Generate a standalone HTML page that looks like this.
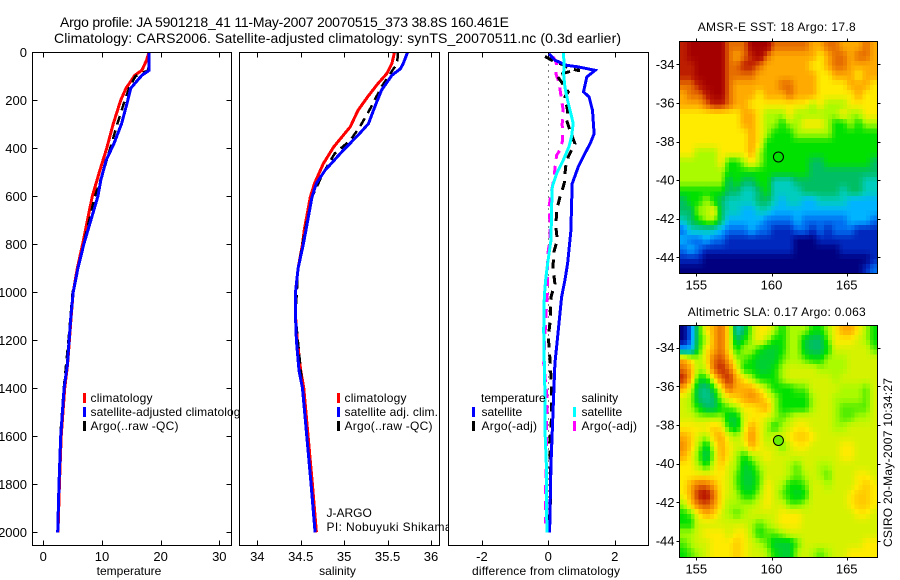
<!DOCTYPE html>
<html lang="en">
<head>
<meta charset="utf-8">
<title>Argo profile JA 5901218_41</title>
<style>
html,body{margin:0;padding:0;background:#fff;width:900px;height:580px;overflow:hidden}
svg{display:block}
text{font-family:"Liberation Sans",sans-serif;font-size:12px;fill:#000}
.title{font-size:14px}
.map-title{font-size:12px}
.tk{font-size:13px}
</style>
</head>
<body>
<svg id="fig" xmlns="http://www.w3.org/2000/svg" width="900" height="580" viewBox="0 0 900 580">
  <rect x="0" y="0" width="900" height="580" fill="#fff"/>
  <text class="title" x="60" y="27" textLength="449">Argo profile: JA 5901218_41 11-May-2007 20070515_373 38.8S 160.461E</text>
  <text class="title" x="54" y="43" textLength="567">Climatology: CARS2006. Satellite-adjusted climatology: synTS_20070511.nc (0.3d earlier)</text>

  <g id="panel-t"></g>
  <g>
    <rect x="83" y="393" width="3" height="10" fill="#f00"/>
    <text x="90.5" y="402" textLength="62">climatology</text>
    <rect x="83" y="407" width="3" height="10" fill="#00f"/>
    <text x="90.5" y="416" textLength="156">satellite-adjusted climatology</text>
    <rect x="83" y="421" width="3" height="10" fill="#000"/>
    <text x="90.5" y="430" textLength="88">Argo(..raw -QC)</text>
  </g>
  <text x="129" y="575" text-anchor="middle">temperature</text>

  <g id="panel-s"></g>
  <g>
    <rect x="337" y="393" width="3" height="10" fill="#f00"/>
    <text x="344.5" y="402" textLength="62">climatology</text>
    <rect x="337" y="407" width="3" height="10" fill="#00f"/>
    <text x="344.5" y="416" textLength="93.5">satellite adj. clim.</text>
    <rect x="337" y="421" width="3" height="10" fill="#000"/>
    <text x="344.5" y="430" textLength="88">Argo(..raw -QC)</text>
  </g>
  <text x="326.5" y="517">J-ARGO</text>
  <text x="326.5" y="531" textLength="125">PI: Nobuyuki Shikama</text>
  <text x="337.5" y="575" text-anchor="middle">salinity</text>

  <g id="panel-d"></g>
  <g>
    <text x="481" y="402">temperature</text>
    <rect x="472" y="407" width="3" height="10" fill="#00f"/>
    <text x="481.5" y="416">satellite</text>
    <rect x="472" y="421" width="3" height="10" fill="#000"/>
    <text x="481.5" y="430" textLength="55.5">Argo(-adj)</text>
    <text x="581.5" y="402">salinity</text>
    <rect x="573" y="407" width="3" height="10" fill="#0ff"/>
    <text x="581.5" y="416">satellite</text>
    <rect x="573" y="421" width="3" height="10" fill="#f0f"/>
    <text x="581.5" y="430" textLength="55.5">Argo(-adj)</text>
  </g>
  <text x="472" y="575" textLength="148">difference from climatology</text>

  <text class="map-title" x="697.7" y="31" textLength="158">AMSR-E SST: 18 Argo: 17.8</text>
  <g id="map-sst"></g>
  <text class="map-title" x="687.7" y="316" textLength="178">Altimetric SLA: 0.17 Argo: 0.063</text>
  <g id="map-sla"></g>
  <text transform="translate(892,547) rotate(-90)" textLength="169">CSIRO 20-May-2007 10:34:27</text>
</svg>

<script>
// ---------- profile data ----------
const depthTicks = [0,200,400,600,800,1000,1200,1400,1600,1800,2000];
const tempTicks = [0,10,20,30];
const salTicks = [34,34.5,35,35.5,36];
const salTickLabels = ['34','34.5','35','35.5','36'];
const diffTicks = [-2,0,2];

const tDepthClim = [0,33,75,96,150,200,300,400,500,600,800,900,1000,1100,1200,1300,1400,1600,1800,2000];
const tClim = [18,17.6,16.8,15.6,14.1,13.2,11.9,10.8,9.55,8.35,6.7,5.8,5.1,4.75,4.45,4.15,3.65,3.05,2.75,2.5];
const tDepthSat = [0,75,96,150,200,297,380,450,533,600,800,900,1000,1100,1200,1300,1400,1600,1800,2000];
const tSat = [18.05,18.05,16.8,14.9,14.4,13.35,12.05,10.7,9.8,9.3,6.9,5.9,5.1,4.7,4.4,4.1,3.55,2.96,2.68,2.45];
const tDepthArgo = [0,75,90,100,150,200,300,400,500,600,800,1000,1200,1400,1600,1800,1950];
const tArgo = [18,17.9,16.5,15.7,14.6,13.9,12.6,11.4,10.2,8.8,6.85,5.0,4.3,3.5,2.9,2.7,2.5];

const sDepthClim = [0,47,89,130,186,242,311,394,464,546,603,742,800,900,1000,1100,1200,1325,1400,1600,1800,2000];
const sClim = [35.58,35.55,35.49,35.39,35.27,35.16,35.07,34.88,34.76,34.66,34.61,34.54,34.52,34.47,34.44,34.44,34.46,34.5,34.535,34.585,34.635,34.68];
const sDepthSat = [0,47,68,96,158,221,297,346,408,492,546,603,742,800,900,1000,1100,1200,1325,1400,1600,1800,2000];
const sSat = [35.73,35.68,35.65,35.55,35.43,35.36,35.28,35.16,34.99,34.78,34.68,34.63,34.56,34.53,34.47,34.44,34.44,34.45,34.48,34.52,34.57,34.62,34.665];
const sDepthArgo = [0,47,89,144,242,311,367,422,478,533,603,742,900,1100,1400,1600,1800,1980];
const sArgo = [35.62,35.61,35.53,35.43,35.29,35.18,35.07,34.89,34.8,34.72,34.63,34.55,34.47,34.44,34.52,34.57,34.62,34.66];

const dDepthTempSat = [6,33,54,61,75,103,165,186,242,339,381,422,478,547,644,742,880,950,1019,1158,1297,1436,1575,1714,1853,2000];
const dTempSat = [0.02,0.2,0.55,0.9,1.41,1.16,1.06,1.23,1.33,1.38,1.26,1.1,0.9,0.72,0.7,0.68,0.58,0.5,0.4,0.3,0.2,0.16,0.12,0.08,0.06,0.04];
const dDepthTempArgo = [17,33,47,54,70,75,80,96,124,165,186,242,283,325,381,436,478,547,603,658,728,783,825,894,964,1019,1116,1186,1297,1408,1519,1630,1742,1880,1992];
const dTempArgo = [-0.1,0.1,0.35,0.48,0.65,0.95,0.65,0.25,0.4,0.6,0.5,0.58,0.55,0.65,0.8,0.6,0.52,0.48,0.35,0.25,0.23,0.27,0.18,0.14,0.2,0.08,0.06,0,0.06,0.1,0.1,0.04,0.06,0.06,0.02];
const dDepthSalSat = [0,47,89,144,200,256,297,353,394,450,506,561,644,783,811,880,950,1019,1158,1297,1436,1575,1714,1853,2000];
const dSalSat = [0.45,0.48,0.46,0.5,0.58,0.68,0.75,0.7,0.62,0.45,0.25,0.12,0.1,0.08,0.05,-0.02,-0.08,-0.12,-0.14,-0.12,-0.1,-0.1,-0.06,-0.06,-0.04];
const dDepthSalArgo = [19,47,89,124,179,242,297,367,408,429,485,519,575,644,714,783,825,880,991,1089,1297,1436,1825,1964];
const dSalArgo = [0.15,0.25,0.23,0.32,0.38,0.45,0.42,0.43,0.35,0.25,0.2,0.18,0.1,0.02,0.05,0.05,0,-0.02,-0.02,-0.07,-0.14,-0.04,-0.08,-0.08];

// ---------- map data (colour level per half-degree cell, north to south) ----------
const lonTicks = [155,160,165];
const latTicks = [-34,-36,-38,-40,-42,-44];
const floatLon = 160.461;
const floatLat = -38.8;
const sstFloatLevel = 6;
const slaFloatLevel = 6.6;

const sstLevels = [
[11,12,12,12,12,12,10,10,10,12,12,12,10,10,10,10,10,9,9,10,10,9,9,9,10,9],
[11,12,12,12,12,12,10,9,10,11,12,10,9,9,9,9,9,9,8,9,10,10,9,10,10,9],
[11,11,12,12,12,12,10,10,11,11,10,9,9,9,9,9,9,8,8,9,10,10,9,9,9,9],
[11,11,12,12,12,12,10,10,10,10,9,9,9,9,9,9,9,9,8,8,9,9,9,8,9,9],
[10,10,11,12,12,12,10,9,9,9,9,9,9,10,10,9,9,9,8,8,8,8,9,9,9,8],
[9,10,10,11,12,12,10,9,9,9,8,9,9,9,10,9,9,9,8,8,8,8,8,9,8,8],
[9,9,9,10,11,11,10,9,9,8,8,8,8,8,8,8,8,7,8,7,7,7,8,8,8,8],
[8,8,8,8,8,8,8,8,9,9,8,7,7,7,8,7,7,7,7,7,7,8,7,7,8,8],
[8,8,8,8,8,8,8,8,9,9,8,7,7,6,7,7,8,8,8,7,6,6,7,6,7,7],
[8,8,8,8,8,8,8,8,8,9,8,7,6,6,6,7,7,7,7,7,6,6,6,6,6,6],
[8,8,8,8,8,8,8,8,8,9,8,6,6,6,6,6,6,6,6,6,6,6,6,6,6,6],
[8,8,7,7,7,8,8,8,8,9,7,6,6,6,6,6,6,6,6,6,6,6,6,6,6,6],
[7,7,7,7,7,8,6,6,7,8,7,6,6,6,6,6,6,5,5,6,6,6,6,6,6,5],
[7,7,7,7,7,7,6,6,6,6,6,6,6,6,6,6,6,5,5,5,5,5,5,5,5,5],
[7,7,7,7,7,7,5,6,5,5,6,6,4,4,4,5,5,5,5,5,5,5,5,5,4,4],
[6,6,6,6,6,6,5,5,4,4,5,6,4,4,4,4,5,5,5,5,5,4,5,5,4,4],
[5,6,6,7,6,5,4,4,4,4,5,5,4,3,4,4,3,3,4,4,4,4,3,3,3,3],
[5,5,7,7,8,5,4,4,3,3,4,4,3,3,3,3,3,3,3,3,3,3,3,3,3,3],
[4,5,6,7,7,5,3,3,3,3,3,2,2,2,2,3,2,2,2,2,2,2,3,3,3,2],
[2,4,4,4,4,3,2,2,2,3,2,2,1,1,1,2,2,1,2,1,2,2,2,1,1,1],
[3,2,2,3,2,2,1,1,1,1,1,1,1,1,1,0,0,0,1,1,1,1,1,1,1,1],
[2,3,2,1,1,1,1,1,1,1,1,1,1,1,1,0,0,0,0,0,0,1,1,1,1,1],
[1,1,1,0,0,0,0,0,0,0,0,0,0,0,0,0,0,0,0,0,0,0,0,0,0,1],
[0,0,0,0,0,0,0,0,0,0,0,0,0,0,0,0,0,0,0,0,0,0,0,0,1,2]
];

const slaLevels = [
[0,2,6,8,9,10,8,4,5,7,8,8,7,6,7,7,7,6,6,7,8,9,9,8,7,6],
[0,2,6,7,9,10,8,5,6,7,8,7,6,6,7,7,5.5,5,5,6.5,8,8,8,7.5,7,6],
[3,3,6,8,9,10,8,6,7,7,6,5.5,5.5,6,7,7,5.5,5,5,6,7.5,7.5,7.5,7.5,7.5,6.5],
[9,8,7,8,10,10.5,9,7,6.5,6,5.5,5.5,5.5,6.5,7,7,6.5,6,6,7,7,7,7.5,7.5,7.5,7.5],
[10,9,7,7.5,10,11,10,8,6,6,5.5,5.5,6,7,7.5,7.5,7.5,7.5,7,7,7,7,7.5,7.5,7.5,7.5],
[11,9,6,6,8,10,11,9,8,7,6,6,6,7,7.5,7.5,7.5,7.5,7.5,7.5,7,7.5,7.5,7.5,7.5,7.5],
[9,7.5,5,4.5,6,8,10,9,9,9,8,7,6,6,6,6.5,6.5,7.5,7.5,7.5,7.5,7,7,7,6.5,7.5],
[7.5,7,5,4.5,5,7,8,8.5,9,9.5,9,8,7,6,6,6,6,7,7.5,7.5,7,7,7,7,6.5,7.5],
[7.5,7,6,5,5,6,6.5,7,8,8,8.5,9,7,6,6,6,6,7,7.5,7.5,7,6.5,6.5,6.5,6.5,7.5],
[7.5,7.5,7,7,7,7,5.5,5.5,7.5,8,8,7.5,7,6.5,7,7.5,7.5,7.5,7.5,7.5,7,6.5,6.5,7,7,7.5],
[8,8,8,8,8.5,8,6,5.5,7.5,9,8,7,6,7,7.5,8,8,7.5,7.5,7.5,7,7,7.5,7.5,7.5,7.5],
[9,8.5,7.5,7,8.5,9,7.5,7,8,9.5,8,7,7.5,7.5,8,8.5,8.5,8,7.5,7.5,7.5,7.5,7.5,7.5,7.5,7.5],
[9.5,8.5,7,5.5,7.5,9,8,7.5,7.5,9,8,7.5,7.5,6.5,7.5,8,8,7.5,7.5,7.5,7.5,8,8,7.5,7.5,7.5],
[9,8,6.5,5,7,9,8,7,6,7,7.5,8,7.5,7.5,7.5,7.5,7.5,7.5,7.5,7.5,7.5,8,8,7.5,7.5,7.5],
[8,8,7,6,7.5,8.5,7.5,7,5.5,6,7,7.5,7.5,7.5,7,6.5,7.5,7.5,7,7,7.5,7.5,7.5,7.5,7.5,7.5],
[8,8,8,8,8,8,7.5,6.5,5.5,5.5,6.5,7.5,7.5,7.5,7,6.5,7,7.5,7,6.5,7.5,7.5,7.5,8,8,7.5],
[8,9,10,10,9,8,7.5,6.5,5.5,5.5,6.5,8,7.5,7,6,6,6.5,7.5,7.5,7,7.5,7.5,7.5,8,8.5,8],
[8,9,11,11.5,10,8,7.5,7,6,6,7,8,7.5,6.5,6,5.5,6,7.5,7.5,7.5,7.5,7.5,8,8.5,8.5,8],
[7,8.5,10,10.5,9.5,8,7,7,7,7,7.5,8,7.5,7.5,6.5,6.5,7,7.5,7.5,7.5,7.5,7.5,8,8.5,8.5,8],
[6,6.5,8,9,8.5,7.5,7,6.5,7,7.5,7.5,7.5,7.5,8,8,8,7.5,7.5,7.5,7.5,7.5,7.5,7.5,8,8,7.5],
[6,6,7.5,7.5,7.5,7.5,7.5,7.5,7.5,7,6.5,7,7.5,8,8,8,7.5,7.5,7.5,7.5,7.5,7.5,7.5,7.5,7.5,7.5],
[7,7,7.5,8,8,8,7.5,8,8,7,6,6.5,6.5,7,7.5,7.5,7.5,7.5,7.5,7.5,7.5,7.5,7.5,7.5,7.5,7.5],
[6.5,7,7.5,7.5,8,8,8,8.5,8,7.5,7,6.5,5.5,5.5,5.5,6.5,7.5,7.5,7.5,7.5,7.5,7.5,7.5,7.5,8,8],
[6,6.5,7,7.5,8,8,8,8.5,8,7.5,7.5,7,6,5.5,5.5,7,7.5,7,6.5,7,7.5,7.5,8,8,8,8]
];

const levelColors = [[0,0,128],[0,40,190],[0,110,240],[0,180,255],[0,205,190],[0,190,100],[0,225,0],[170,250,0],[255,235,0],[255,170,0],[230,110,0],[190,30,0],[165,0,0]];

// ---------- helpers ----------
const NS = 'http://www.w3.org/2000/svg';
function scale(d0, d1, r0, r1) { return v => r0 + (v - d0) * (r1 - r0) / (d1 - d0); }
function mk(parent, tag, attrs, txt) {
  const el = document.createElementNS(NS, tag);
  for (const k in attrs) el.setAttribute(k, attrs[k]);
  if (txt !== undefined) el.textContent = txt;
  parent.appendChild(el);
  return el;
}
function levelColor(v) {
  const i = Math.max(0, Math.min(levelColors.length - 2, Math.floor(v)));
  const f = Math.max(0, Math.min(1, v - i));
  const a = levelColors[i], b = levelColors[i + 1];
  return 'rgb(' + a.map((c, k) => Math.round(c + (b[k] - c) * f)).join(',') + ')';
}
// bilinear display sampling of a level grid at fractional cell coordinates
function sampleGrid(levels, u, v) {
  const nr = levels.length, nc = levels[0].length;
  const uu = Math.max(0, Math.min(nc - 1, u)), vv = Math.max(0, Math.min(nr - 1, v));
  const c0 = Math.floor(uu), r0 = Math.floor(vv);
  const c1 = Math.min(nc - 1, c0 + 1), r1 = Math.min(nr - 1, r0 + 1);
  const fu = uu - c0, fv = vv - r0;
  return (levels[r0][c0] * (1 - fu) + levels[r0][c1] * fu) * (1 - fv) +
         (levels[r1][c0] * (1 - fu) + levels[r1][c1] * fu) * fv;
}

const yDepth = scale(0, 2000, 52.3, 532.3);
const PTOP = 52.5, PBOT = 545.5;

function profilePanel(group, box, xFn, ticks, labels, withDepth, nameBase) {
  const bg = mk(group, 'rect', {x: box.l, y: PTOP, width: box.r - box.l, height: PBOT - PTOP, fill: '#fff'});
  
  
  ticks.forEach((t, i) => {
    const x = Math.round(xFn(t)) + 0.5;
    const tb = mk(group, 'path', {d: 'M' + x + ' ' + PBOT + 'V' + (PBOT - 5) + 'M' + x + ' ' + PTOP + 'V' + (PTOP + 5), stroke: '#000', 'shape-rendering': 'crispEdges'});
    
    
    const lb = mk(group, 'text', {x: xFn(t), y: 561, 'text-anchor': 'middle', class: 'tk'}, labels[i]);
    
    
  });
  if (withDepth) {
    depthTicks.forEach(d => {
      const y = Math.round(yDepth(d)) + 0.5;
      const tk = mk(group, 'path', {d: 'M' + box.l + ' ' + y + 'h5M' + box.r + ' ' + y + 'h-5', stroke: '#000', 'shape-rendering': 'crispEdges'});
      
      
      const lb = mk(group, 'text', {x: 27, y: yDepth(d) + 4.5, 'text-anchor': 'end', class: 'tk'}, String(d));
      
      
    });
  }
}
function frame(group, box, nameBase) {
  const f = mk(group, 'rect', {x: box.l, y: PTOP, width: box.r - box.l, height: PBOT - PTOP, fill: 'none', stroke: '#000', 'shape-rendering': 'crispEdges'});
  
  
}
function profile(group, xFn, depths, vals, color, width, dash, name) {
  const pts = depths.map((d, i) => xFn(vals[i]).toFixed(1) + ',' + yDepth(d).toFixed(1)).join(' ');
  const attrs = {points: pts, fill: 'none', stroke: color, 'stroke-width': width, 'shape-rendering': 'crispEdges'};
  if (dash) attrs['stroke-dasharray'] = dash;
  const line = mk(group, 'polyline', attrs);
  
  
}

// ---------- temperature panel ----------
const boxT = {l: 32.5, r: 231.5};
const xT = scale(0, 30, 43.3, 219.3);
const gT = document.getElementById('panel-t');
profilePanel(gT, boxT, xT, tempTicks, tempTicks.map(String), true, 'temperature');
profile(gT, xT, tDepthClim, tClim, '#f00', 3, null, 'temperature-climatology-line');
profile(gT, xT, tDepthArgo, tArgo, '#000', 2.5, '9 6', 'temperature-argo-line');
profile(gT, xT, tDepthSat, tSat, '#00f', 3, null, 'temperature-satellite-line');
frame(gT, boxT, 'temperature');

// ---------- salinity panel ----------
const boxS = {l: 239.5, r: 439.5};
const xS = scale(34, 36, 257.3, 431);
const gS = document.getElementById('panel-s');
profilePanel(gS, boxS, xS, salTicks, salTickLabels, false, 'salinity');
profile(gS, xS, sDepthClim, sClim, '#f00', 3, null, 'salinity-climatology-line');
profile(gS, xS, sDepthArgo, sArgo, '#000', 2.5, '9 6', 'salinity-argo-line');
profile(gS, xS, sDepthSat, sSat, '#00f', 3, null, 'salinity-satellite-line');
frame(gS, boxS, 'salinity');

// ---------- difference panel ----------
const boxD = {l: 448.5, r: 648.5};
const xD = scale(-2, 2, 481.9, 614.7);
const gD = document.getElementById('panel-d');
profilePanel(gD, boxD, xD, diffTicks, diffTicks.map(String), false, 'difference');
const zero = mk(gD, 'line', {x1: xD(0), x2: xD(0), y1: PTOP, y2: yDepth(2000), stroke: '#000', 'stroke-dasharray': '1 5', 'shape-rendering': 'crispEdges'});


profile(gD, xD, dDepthSalArgo, dSalArgo, '#f0f', 3, '9 7', 'salinity-argo-difference-line');
profile(gD, xD, dDepthTempArgo, dTempArgo, '#000', 3, '9 7', 'temperature-argo-difference-line');
profile(gD, xD, dDepthTempSat, dTempSat, '#00f', 3, null, 'temperature-satellite-difference-line');
profile(gD, xD, dDepthSalSat, dSalSat, '#0ff', 3, null, 'salinity-satellite-difference-line');
frame(gD, boxD, 'difference');

// ---------- maps ----------
const SUB = 2; // display cells per data cell
function drawMap(group, levels, top, bottom, lat34y, lat44y, floatLevel, nameBase) {
  const L = 679.5, R = 877.5;
  const xLon = scale(155, 165, 696.3, 846.7);
  const yLat = scale(-34, -44, lat34y, lat44y);
  const nr = levels.length * SUB, nc = levels[0].length * SUB;
  const cw = (R - L) / nc, ch = (bottom - top) / nr;
  for (let r = 0; r < nr; r++) {
    for (let c = 0; c < nc; c++) {
      const v = sampleGrid(levels, (c + 0.5) / SUB - 0.5, (r + 0.5) / SUB - 0.5);
      const cell = mk(group, 'rect', {x: (L + c * cw).toFixed(2), y: (top + r * ch).toFixed(2), width: (cw + 0.3).toFixed(2), height: (ch + 0.3).toFixed(2), fill: levelColor(v), 'shape-rendering': 'crispEdges'});
      
      
    }
  }
  const f = mk(group, 'rect', {x: L, y: top, width: R - L, height: bottom - top, fill: 'none', stroke: '#000', 'shape-rendering': 'crispEdges'});
  
  
  lonTicks.forEach(t => {
    const x = Math.round(xLon(t)) + 0.5;
    const tk = mk(group, 'path', {d: 'M' + x + ' ' + top + 'v-3M' + x + ' ' + bottom + 'v3', stroke: '#000', 'shape-rendering': 'crispEdges'});
    
    
    const lb = mk(group, 'text', {x: xLon(t), y: bottom + 16, 'text-anchor': 'middle', class: 'tk'}, String(t));
    
    
  });
  latTicks.forEach(t => {
    const y = Math.round(yLat(t)) + 0.5;
    const tk = mk(group, 'path', {d: 'M' + L + ' ' + y + 'h-3M' + R + ' ' + y + 'h3', stroke: '#000', 'shape-rendering': 'crispEdges'});
    
    
    const lb = mk(group, 'text', {x: L - 5, y: yLat(t) + 4.5, 'text-anchor': 'end', class: 'tk'}, String(t));
    
    
  });
  const c = mk(group, 'circle', {cx: xLon(floatLon), cy: yLat(floatLat), r: 5, fill: levelColor(floatLevel), stroke: '#000'});
  
  
}
drawMap(document.getElementById('map-sst'), sstLevels, 41.5, 273.5, 64.3, 257.3, sstFloatLevel, 'sst-map');
drawMap(document.getElementById('map-sla'), slaLevels, 325.5, 557.5, 347.7, 541, slaFloatLevel, 'sla-map');
</script>
</body>
</html>
